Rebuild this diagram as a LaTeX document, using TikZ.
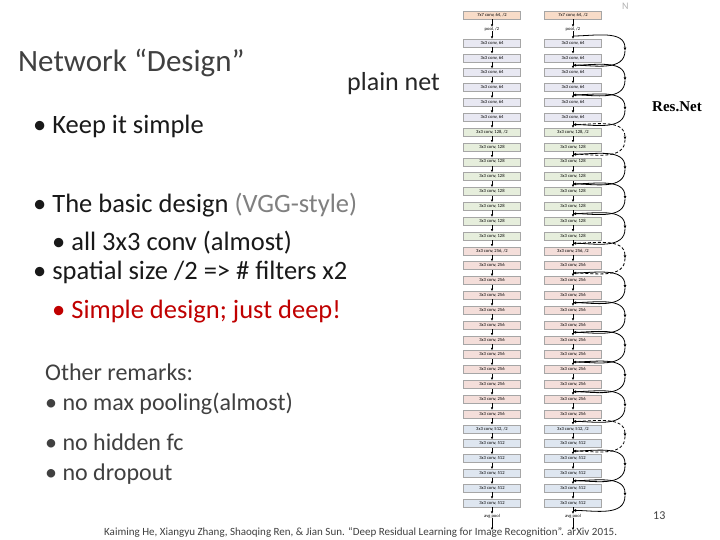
\documentclass[tikz,border=0pt]{standalone}
\usepackage{fontspec}
\setmainfont{Carlito}
\newfontfamily\timesf{Liberation Serif}
\usetikzlibrary{arrows.meta}
\definecolor{cA}{HTML}{F8DCC8}
\definecolor{cB}{HTML}{E8E8F2}
\definecolor{cC}{HTML}{E6EEDC}
\definecolor{cD}{HTML}{F4DEDA}
\definecolor{cE}{HTML}{DEE6F0}
\definecolor{tx}{HTML}{404040}
\definecolor{rd}{HTML}{C00000}
\begin{document}
\begin{tikzpicture}[x=1pt,y=-1pt,
 lay/.style={draw=gray!70,minimum width=57pt,minimum height=8pt,inner sep=0pt,font=\fontsize{4.6}{4.6}\selectfont},
 lbl/.style={inner sep=0pt,font=\fontsize{4.6}{4.6}\selectfont},
 arr/.style={-{Latex[length=2.5pt,width=2.5pt]},line width=0.6pt},
 sc/.style={line width=0.8pt},
 txt/.style={anchor=base west,inner sep=0pt,text=tx}]
\useasboundingbox (0,0) rectangle (720,540);
\fill[white] (0,0) rectangle (720,540);
% texts
\node[txt,font=\fontsize{31}{31}\selectfont] (title) at (18,72) {Network “Design”};
\node[txt,font=\fontsize{26}{26}\selectfont,text=black!85] (plain) at (347,91) {plain net};
\node[txt,font=\timesf\bfseries\fontsize{15}{15}\selectfont,text=black] (res) at (652,112) {Res.Net};
\node[txt,font=\fontsize{26.5}{26.5}\selectfont,text=black!90] (b1) at (33,134) {• Keep it simple};
\node[txt,font=\fontsize{26.5}{26.5}\selectfont,text=black!90] (b2) at (33,212) {• The basic design \textcolor{gray}{(VGG-style)}};
\node[txt,font=\fontsize{26.5}{26.5}\selectfont,text=black!90] (b3) at (52,250) {• all 3x3 conv (almost)};
\node[txt,font=\fontsize{26.5}{26.5}\selectfont,text=black!90] (b4) at (33,279) {• spatial size /2 => \# filters x2};
\node[txt,font=\fontsize{26.5}{26.5}\selectfont,text=rd] (b5) at (52,318) {• Simple design; just deep!};
\node[txt,font=\fontsize{24}{24}\selectfont] (o1) at (45,380) {Other remarks:};
\node[txt,font=\fontsize{24}{24}\selectfont] (o2) at (45,410) {• no max pooling(almost)};
\node[txt,font=\fontsize{24}{24}\selectfont] (o3) at (45,450) {• no hidden fc};
\node[txt,font=\fontsize{24}{24}\selectfont] (o4) at (45,480) {• no dropout};
\node[txt,font=\fontsize{11}{11}\selectfont] (cite) at (104,535) {Kaiming He, Xiangyu Zhang, Shaoqing Ren, \& Jian Sun. “Deep Residual Learning for Image Recognition”. arXiv 2015.};
\node[txt,font=\fontsize{12}{12}\selectfont] (pg) at (653,519) {13};
\node[txt,font=\fontsize{10}{10}\selectfont,text=gray!60] (nn) at (622,10) {N};
% networks
\foreach \c/\X in {L/492,R/573}{
 \node[lay,fill=cA] (\c0) at (\X,15) {7x7 conv, 64, /2};
 \node[lbl] (\c p) at (\X,29) {pool, /2};
 \draw[arr] (\c0) -- (\c p);
 \foreach \i in {1,...,32}{
  \pgfmathsetmacro\yy{43+(\i-1)*14.84}
  \ifnum\i<7 \def\lab{3x3 conv, 64}\def\col{cB}\fi
  \ifnum\i=7 \def\lab{3x3 conv, 128, /2}\def\col{cC}\fi
  \ifnum\i>7 \def\lab{3x3 conv, 128}\def\col{cC}\fi
  \ifnum\i=15 \def\lab{3x3 conv, 256, /2}\def\col{cD}\fi
  \ifnum\i>15 \def\lab{3x3 conv, 256}\def\col{cD}\fi
  \ifnum\i=27 \def\lab{3x3 conv, 512, /2}\def\col{cE}\fi
  \ifnum\i>27 \def\lab{3x3 conv, 512}\def\col{cE}\fi
  \node[lay,fill=\col] (\c\i) at (\X,\yy) {\lab};
 }
 \node[lbl] (\c a) at (\X,516) {avg pool};
 \draw[arr] (\c p) -- (\c1);
 \foreach \i [evaluate=\i as \j using int(\i+1)] in {1,...,31}{ \draw[arr] (\c\i) -- (\c\j); }
 \draw[arr] (\c32) -- (\c a);
 \coordinate (\c e) at (\X,530);
 \draw[arr] (\c a) -- (\c e);
}
% shortcut points
\foreach \i [evaluate=\i as \j using int(\i+1)] in {1,...,32}{
 \pgfmathsetmacro\yy{43+(\i-1)*14.84+7.4}
 \coordinate (M\j) at (573,\yy);
}
\coordinate (M1) at (573,36);
\foreach \k in {0,...,15}{
 \pgfmathtruncatemacro\a{2*\k+1}
 \pgfmathtruncatemacro\b{2*\k+3}
 \pgfmathsetmacro\ym{(36+(\k*2)*14.84+43+(\k*2+1)*14.84+7.4)/2}
 \coordinate (C\k) at (625,\ym);
 \ifnum\a=7 \def\st{densely dashed}\else\ifnum\a=15 \def\st{densely dashed}\else\ifnum\a=27 \def\st{densely dashed}\else\def\st{solid}\fi\fi\fi
 \draw[sc,\st,-{Latex[length=3pt,width=3pt]}] (M\a) to[out=0,in=90] (C\k);
 \draw[sc,\st,-{Latex[length=3pt,width=3pt]}] (C\k) to[out=-90,in=0] (M\b);
}
\end{tikzpicture}
\end{document}
